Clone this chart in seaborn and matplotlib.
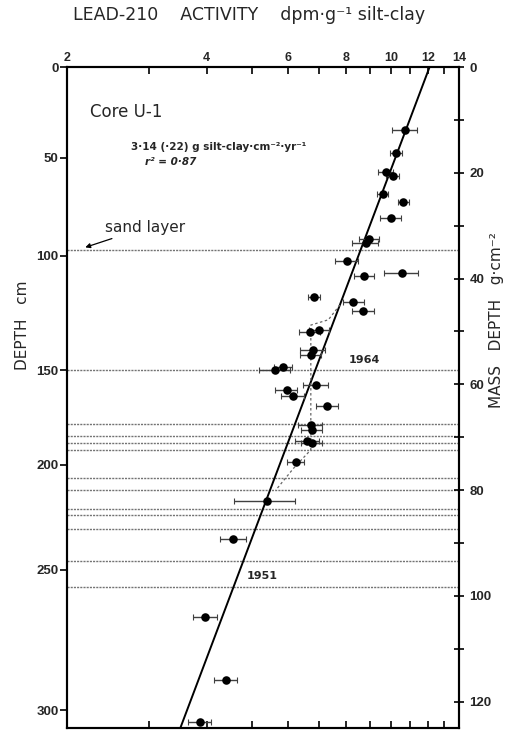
import numpy as np
import pandas as pd
import seaborn as sns
import matplotlib.pyplot as plt
from matplotlib.ticker import FixedLocator, FixedFormatter, NullFormatter

# Pb-210 activity (dpm/g silt-clay) against mass depth (g/cm2), core U-1
mass_depth = [11.9, 16.3, 19.8, 20.7, 24.0, 25.5, 28.5, 32.6, 33.2, 36.6,
              38.9, 39.6, 43.4, 44.4, 46.1, 50.2, 49.7, 53.6, 54.4, 57.3,
              56.8, 60.2, 61.1, 62.2, 64.1, 67.7, 68.6, 70.8, 71.1, 74.7,
              82.0, 89.3, 104.0, 116.0, 123.8]
activity = [10.69, 10.23, 9.73, 10.07, 9.59, 10.62, 9.99, 8.96, 8.81, 8.02,
            10.53, 8.75, 6.82, 8.29, 8.71, 6.68, 6.99, 6.79, 6.72, 5.62,
            5.85, 6.88, 5.95, 6.13, 7.28, 6.71, 6.75, 6.59, 6.74, 6.23,
            5.39, 4.57, 3.97, 4.40, 3.87]
activity_err = [0.67, 0.30, 0.35, 0.30, 0.27, 0.30, 0.53, 0.45, 0.57, 0.46,
                0.88, 0.43, 0.20, 0.43, 0.48, 0.34, 0.35, 0.42, 0.35, 0.42,
                0.25, 0.41, 0.33, 0.35, 0.40, 0.40, 0.35, 0.40, 0.35, 0.26,
                0.80, 0.30, 0.24, 0.26, 0.22]

# dashed profile through the constant-activity zone
mixed_activity = [7.75, 7.32, 6.71, 6.71, 6.17, 5.64]
mixed_depth = [45.0, 47.8, 48.8, 72.4, 75.8, 80.0]

# layer boundaries (g/cm2): sand layer, 1964, ..., 1951
layer_depth = [34.6, 57.3, 67.5, 69.8, 71.1, 72.4, 77.7, 80.0, 83.6, 84.7,
               87.3, 93.4, 98.3]

# fit: 3.14 g/cm2/yr, surface activity, Pb-210 half life
accum_rate = 3.14
surface_activity = 12.1
half_life = 22.3

# left axis: depth in cm at the matching mass depth
cm_labels = [0, 50, 100, 150, 200, 250, 300]
cm_at_mass = [0, 17.2, 35.7, 57.3, 75.2, 95.1, 121.6]

act_ticks = [2, 4, 6, 8, 10, 12, 14]
act_minor = [3, 5, 7, 9, 11, 13]
mass_ticks = [0, 20, 40, 60, 80, 100, 120]
mass_minor = [10, 30, 50, 70, 90, 110]

sns.set_theme(style="ticks")
plt.rcParams['font.family'] = ['Liberation Sans', 'DejaVu Sans']
plt.rcParams['axes.linewidth'] = 1.5
wide = ['DejaVu Sans']

df = pd.DataFrame({'activity': activity, 'mass': mass_depth, 'err': activity_err})

fig = plt.figure(figsize=(5.09, 7.31), dpi=100)
ax = fig.add_axes([0.1316, 0.0041, 0.7701, 0.9042])
ax.set_xscale('log')

for m in layer_depth:
    ax.axhline(m, color='0.45', lw=1.0, ls=(0, (1.5, 0.8)), zorder=1)

lam = np.log(2) / half_life
m_line = np.linspace(0, 125, 200)
ax.plot(surface_activity * np.exp(-lam * m_line / accum_rate), m_line,
        color='black', lw=1.4, zorder=2)
ax.plot(mixed_activity, mixed_depth, color='0.4', lw=0.9, ls=(0, (2, 2)), zorder=2)

ax.errorbar(df['activity'], df['mass'], xerr=df['err'], fmt='none',
            ecolor='0.25', elinewidth=1.0, capsize=2, capthick=0.8, zorder=3)
sns.scatterplot(data=df, x='activity', y='mass', ax=ax, color='black',
                s=38, edgecolor='black', linewidth=0, zorder=4, legend=False)

ax.set_xlim(2, 14)
ax.set_ylim(125, 0)
ax.set_xlabel('')
ax.set_ylabel('')

ax.xaxis.set_major_locator(FixedLocator(act_ticks))
ax.xaxis.set_major_formatter(FixedFormatter([str(t) for t in act_ticks]))
ax.xaxis.set_minor_locator(FixedLocator(act_minor))
ax.xaxis.set_minor_formatter(NullFormatter())
ax.tick_params(axis='x', which='both', top=True, bottom=True, labeltop=True,
               labelbottom=False, direction='in', length=5, width=1.2,
               labelsize=9, pad=2, color='black')

ax.set_yticks(cm_at_mass)
ax.set_yticklabels([str(c) for c in cm_labels])
ax.tick_params(axis='y', which='both', left=True, right=False, direction='out',
               length=5, width=1.2, labelsize=9.5, pad=1, color='black')

ax2 = ax.twinx()
ax2.set_ylim(125, 0)
ax2.set_yticks(mass_ticks)
ax2.set_yticks(mass_minor, minor=True)
ax2.tick_params(axis='y', which='both', direction='inout', length=7, width=1.2,
                labelsize=9.5, pad=4, color='black')

for a in (ax, ax2):
    for s in a.spines.values():
        s.set_color('black')
        s.set_linewidth(1.5)
for t in ax.get_xticklabels() + ax.get_yticklabels() + ax2.get_yticklabels():
    t.set_fontweight('bold')

fig.text(0.489, 0.979, 'LEAD-210    ACTIVITY    dpm·g⁻¹ silt-clay',
         ha='center', va='center', fontsize=12.5, family=wide)
fig.text(0.045, 0.555, 'DEPTH   cm', rotation=90, ha='center', va='center',
         fontsize=11, family=wide)
fig.text(0.976, 0.562, 'MASS   DEPTH   g·cm⁻²', rotation=90, ha='center',
         va='center', fontsize=11, family=wide)

ax.text(2.24, 8.5, 'Core U-1', fontsize=12, va='center', ha='left', family=wide)
ax.text(2.75, 15.2, '3·14 (·22) g silt-clay·cm⁻²·yr⁻¹', fontsize=7.5,
        fontweight='bold', va='center', ha='left', family=wide)
ax.text(2.95, 18.0, 'r² = 0·87', fontsize=7.5, fontweight='bold', style='italic',
        va='center', ha='left', family=wide)
ax.annotate('sand layer', xy=(2.19, 34.1), xytext=(2.41, 30.4), fontsize=11,
            va='center', ha='left', family=wide,
            arrowprops=dict(arrowstyle='-|>', color='black', lw=0.9,
                            mutation_scale=7, shrinkA=0, shrinkB=0))
ax.text(8.08, 55.4, '1964', fontsize=8, fontweight='bold', va='center',
        ha='left', family=wide)
ax.text(4.89, 96.2, '1951', fontsize=8, fontweight='bold', va='center',
        ha='left', family=wide)

fig.savefig('out.png', dpi=100)
